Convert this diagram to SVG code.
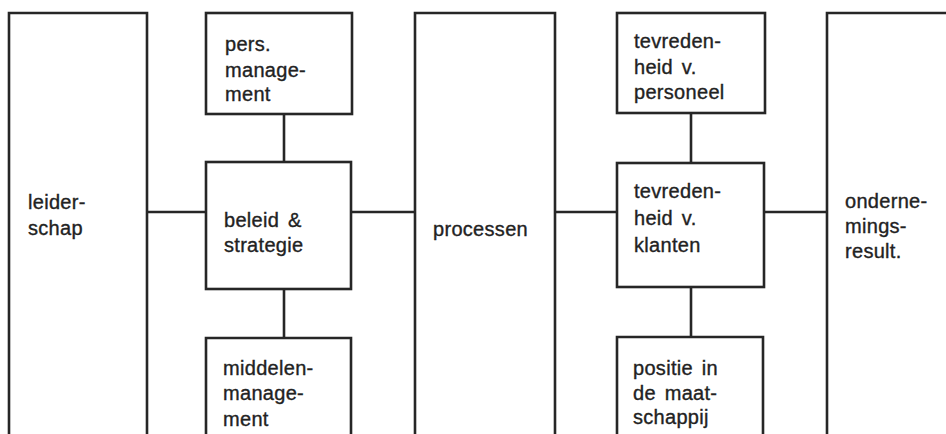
<svg xmlns="http://www.w3.org/2000/svg" width="946" height="434" viewBox="0 0 946 434">
<style>
.b{fill:none;stroke:#262626;stroke-width:2.6;stroke-linejoin:miter}
.c{fill:none;stroke:#262626;stroke-width:2.6}
text{font-family:"Liberation Sans",Arial,sans-serif;font-size:20px;fill:#222222;stroke:#222222;stroke-width:0.35px;letter-spacing:0.3px;word-spacing:3px}
</style>
<rect width="946" height="434" fill="#ffffff"/>
<g id="connectors">
<line class="c" x1="147" y1="212" x2="206" y2="212"/>
<line class="c" x1="351" y1="212" x2="415" y2="212"/>
<line class="c" x1="555" y1="212" x2="617" y2="212"/>
<line class="c" x1="764" y1="212" x2="827" y2="212"/>
<line class="c" x1="284" y1="114" x2="284" y2="162"/>
<line class="c" x1="284" y1="289" x2="284" y2="338"/>
<line class="c" x1="691" y1="113" x2="691" y2="163"/>
<line class="c" x1="691" y1="287" x2="691" y2="337"/>
</g>
<g id="leiderschap">
<path class="b" d="M9,440 V13 H147 V440"/>
<text x="28" y="209">leider-</text>
<text x="28" y="235">schap</text>
</g>
<g id="pers-management">
<rect class="b" x="206" y="13" width="146" height="101"/>
<text x="225" y="51">pers.</text>
<text x="225" y="77">manage-</text>
<text x="225" y="101">ment</text>
</g>
<g id="beleid-strategie">
<rect class="b" x="206" y="162" width="145" height="127"/>
<text x="224" y="227">beleid &amp;</text>
<text x="224" y="252">strategie</text>
</g>
<g id="middelen-management">
<path class="b" d="M206,440 V338 H351 V440"/>
<text x="223" y="375">middelen-</text>
<text x="223" y="400">manage-</text>
<text x="223" y="426">ment</text>
</g>
<g id="processen">
<path class="b" d="M415,440 V13 H555 V440"/>
<text x="433" y="236">processen</text>
</g>
<g id="tevredenheid-personeel">
<rect class="b" x="617" y="13" width="148" height="100"/>
<text x="634" y="48">tevreden-</text>
<text x="634" y="74">heid v.</text>
<text x="634" y="99">personeel</text>
</g>
<g id="tevredenheid-klanten">
<rect class="b" x="617" y="163" width="147" height="124"/>
<text x="634" y="198">tevreden-</text>
<text x="634" y="225">heid v.</text>
<text x="634" y="252">klanten</text>
</g>
<g id="positie-maatschappij">
<path class="b" d="M617,440 V337 H763 V440"/>
<text x="633" y="375">positie in</text>
<text x="633" y="400">de maat-</text>
<text x="633" y="424">schappij</text>
</g>
<g id="ondernemingsresultaat">
<path class="b" d="M827,440 V13 H950"/>
<text x="845" y="208">onderne-</text>
<text x="845" y="233">mings-</text>
<text x="845" y="258">result.</text>
</g>
</svg>
